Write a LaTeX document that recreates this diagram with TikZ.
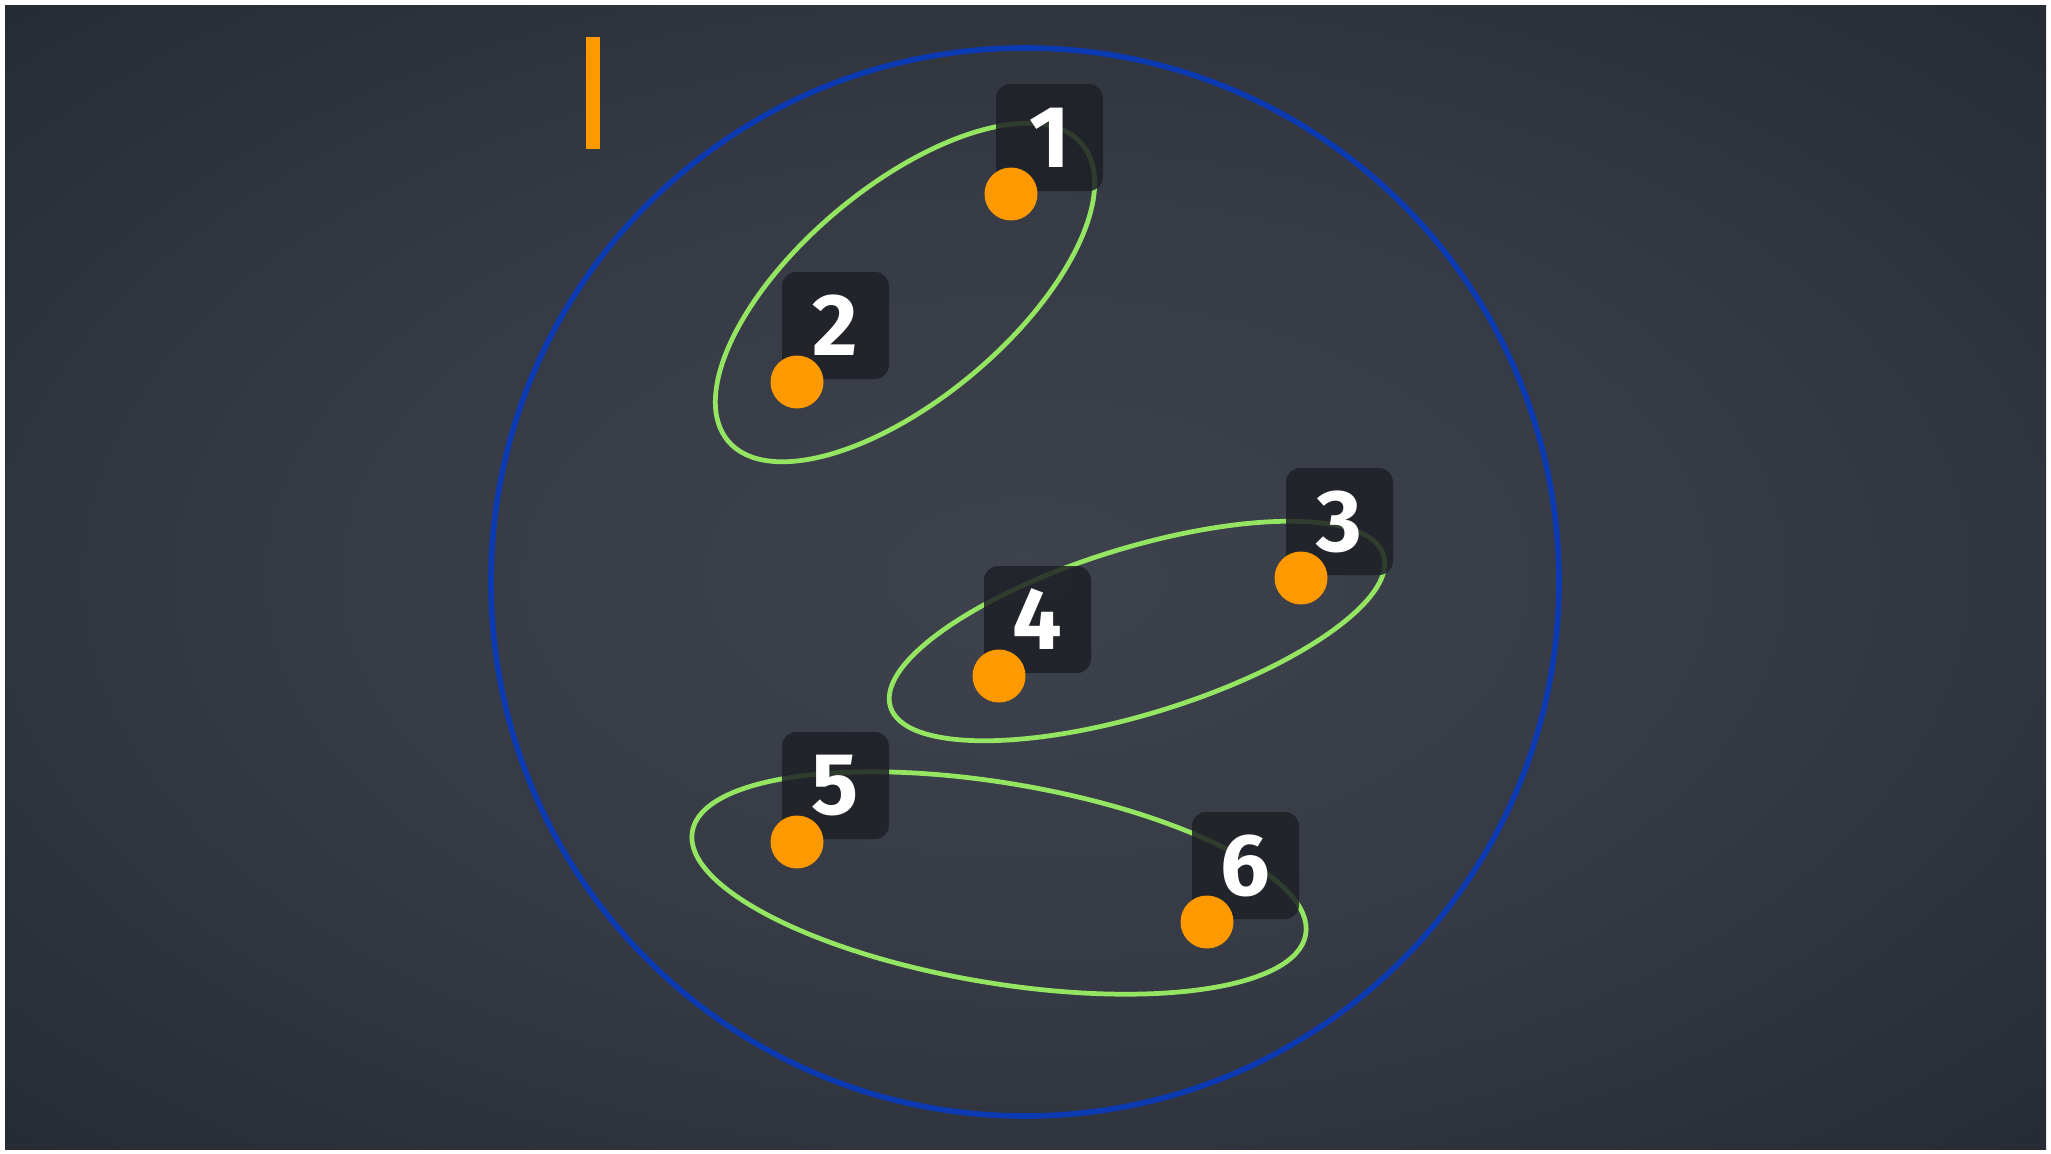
\documentclass[tikz,border=0pt]{standalone}
\usepackage{fontspec}
\newfontfamily\numfont{Fira Sans}
\usepackage{tikz}
\usetikzlibrary{positioning}
\usepackage{xcolor}
\definecolor{boardMid}{RGB}{62, 66, 77}
\definecolor{boardBody}{RGB}{54, 58, 68}
\definecolor{boardDim}{RGB}{40, 44, 52}
\definecolor{boardEdge}{RGB}{26, 29, 36}
\definecolor{ringBlue}{RGB}{12, 58, 178}
\definecolor{chalkGreen}{RGB}{148, 230, 98}
\definecolor{dotOrange}{RGB}{255, 153, 0}
\definecolor{tagDark}{RGB}{30, 32, 38}
\pgfdeclareradialshading{chalkboard}{\pgfpoint{0bp}{0bp}}{%
  color(0bp)=(boardMid); color(18bp)=(boardBody); color(34bp)=(boardDim); color(50bp)=(boardEdge)}

\tikzset{
  pairring/.style={line width=1.35pt, chalkGreen},
  numtag/.style={fill=tagDark, fill opacity=0.85, text opacity=1, rounded corners=4pt,
    minimum size=1.07cm, inner sep=0pt, text=white,
    font=\numfont\bfseries\fontsize{25}{25}\selectfont},
  member/.style={circle, fill=dotOrange, minimum size=0.53cm, inner sep=0pt},
}

\begin{document}
\begin{tikzpicture}
  \useasboundingbox (0,0) rectangle (20.51,-11.54);
  % board
  \fill[white] (0,0) rectangle (20.51,-11.54);
  \shade[shading=chalkboard] (0.05,-0.05) rectangle (20.46,-11.49);

  % cursor mark
  \fill[dotOrange] (5.86,-0.37) rectangle (6.00,-1.49);

  % whole set
  \draw[line width=1.6pt, ringBlue] (10.25,-5.82) circle (5.34);

  % pairs
  \draw[pairring, rotate around={40:(9.05,-2.925)}] (9.05,-2.925) ellipse (2.31 and 1.06);
  \draw[pairring, rotate around={17.1:(11.37,-6.31)}] (11.37,-6.31) ellipse (2.58 and 0.83);
  \draw[pairring, rotate around={-9.5:(9.99,-8.83)}] (9.99,-8.83) ellipse (3.11 and 1.0);

  % elements
  \coordinate (p1) at (10.11,-1.94);
  \coordinate (p2) at (7.97,-3.82);
  \coordinate (p3) at (13.01,-5.78);
  \coordinate (p4) at (9.99,-6.76);
  \coordinate (p5) at (7.97,-8.42);
  \coordinate (p6) at (12.07,-9.22);

  \foreach \i in {1,...,6}
    \node[numtag] (tag\i) at ([shift={(0.385,0.565)}]p\i) {\i};
  \foreach \i in {1,...,6}
    \node[member] (dot\i) at (p\i) {};
\end{tikzpicture}
\end{document}
